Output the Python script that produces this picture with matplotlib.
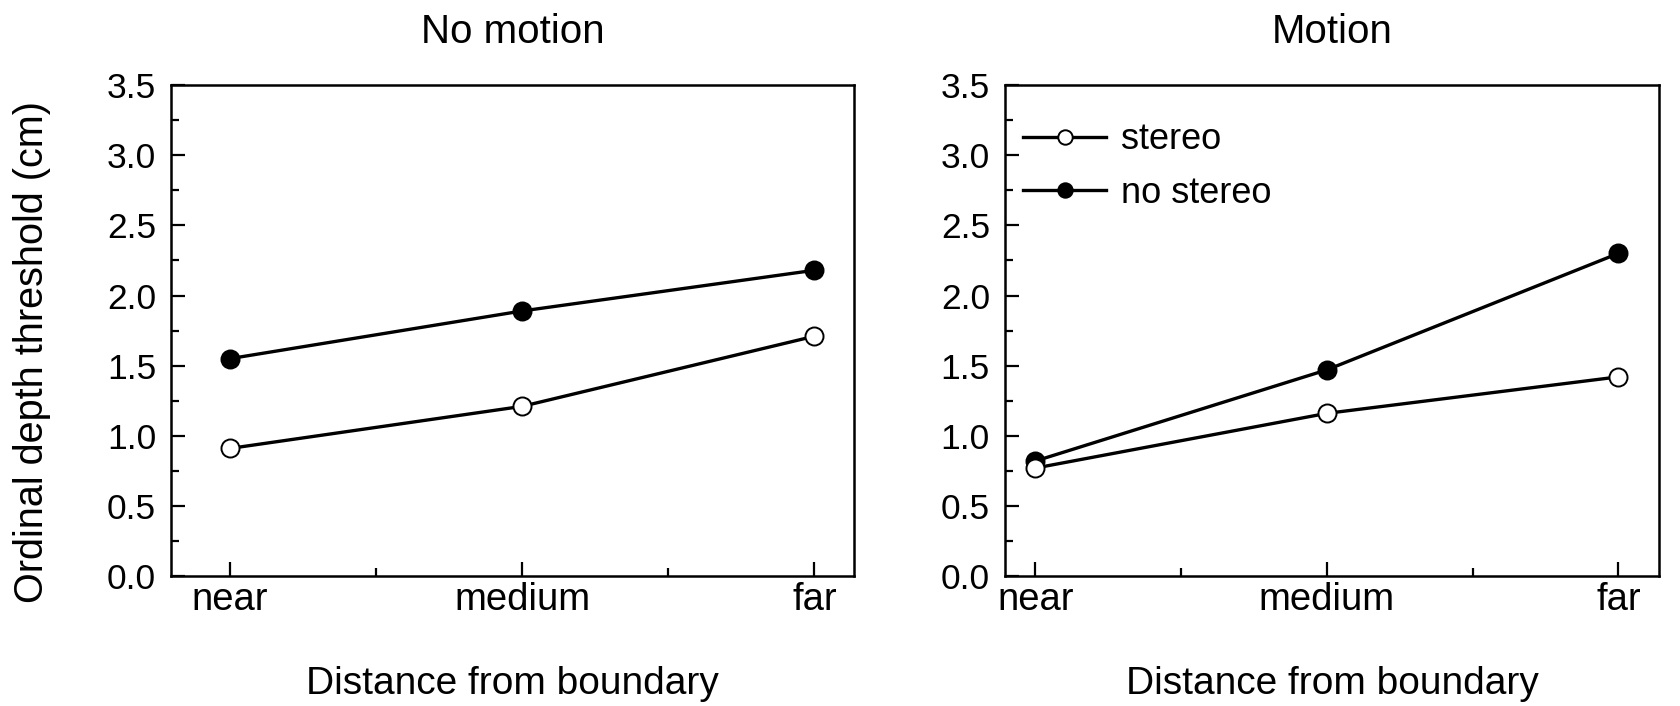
import matplotlib
matplotlib.use("Agg")
import matplotlib.pyplot as plt
from matplotlib.ticker import MultipleLocator, FixedLocator, FormatStrFormatter

plt.rcParams['font.family'] = ['Liberation Sans', 'DejaVu Sans']

categories = ["near", "medium", "far"]
titles = ["No motion", "Motion"]
nomotion_stereo = [0.91, 1.21, 1.71]
nomotion_nostereo = [1.55, 1.89, 2.18]
motion_stereo = [0.77, 1.16, 1.42]
motion_nostereo = [0.82, 1.47, 2.30]
series_labels = ["stereo", "no stereo"]
xlabel = "Distance from boundary"
ylabel = "Ordinal depth threshold (cm)"

fig = plt.figure(figsize=(16.81, 7.06), dpi=100)
ax1 = fig.add_axes([0.102, 0.184, 0.406, 0.6955])
ax2 = fig.add_axes([0.598, 0.184, 0.389, 0.6955])

data = [(nomotion_stereo, nomotion_nostereo), (motion_stereo, motion_nostereo)]
xlims = [(-0.2, 2.135), (-0.103, 2.14)]
x = list(range(len(categories)))

for ax, (st, ns), title, xl in zip([ax1, ax2], data, titles, xlims):
    ax.plot(x, ns, color='black', lw=2.4, marker='o', ms=13, mfc='black',
            mec='black', mew=1.4, label=series_labels[1], zorder=3)
    ax.plot(x, st, color='black', lw=2.4, marker='o', ms=13, mfc='white',
            mec='black', mew=1.4, label=series_labels[0], zorder=4)
    ax.set_xlim(*xl)
    ax.set_ylim(0, 3.5)
    ax.set_xticks(x)
    ax.set_xticklabels(categories)
    ax.xaxis.set_minor_locator(FixedLocator([0.5, 1.5]))
    ax.yaxis.set_major_locator(MultipleLocator(0.5))
    ax.yaxis.set_minor_locator(MultipleLocator(0.25))
    ax.yaxis.set_major_formatter(FormatStrFormatter('%.1f'))
    ax.tick_params(which='major', direction='in', length=10, width=1.6)
    ax.tick_params(which='minor', direction='in', length=6, width=1.6)
    ax.tick_params(axis='y', which='major', labelsize=25.5, pad=11)
    ax.tick_params(axis='x', which='major', labelsize=27.5, pad=4)
    for s in ax.spines.values():
        s.set_linewidth(1.8)
    ax.set_title(title, fontsize=29, pad=30)
    ax.set_xlabel(xlabel, fontsize=28)
    ax.xaxis.set_label_coords(0.5, -0.183)

ax1.set_ylabel(ylabel, fontsize=28.5)
ax1.yaxis.set_label_coords(-0.176, 0.456)

h, l = ax2.get_legend_handles_labels()
ax2.legend([h[1], h[0]], [l[1], l[0]], loc='upper left',
           bbox_to_anchor=(-0.022, 0.99), frameon=False, fontsize=26,
           handlelength=2.3, handletextpad=0.4, labelspacing=0.5,
           markerscale=0.8)

fig.savefig("out.png", dpi=100)
